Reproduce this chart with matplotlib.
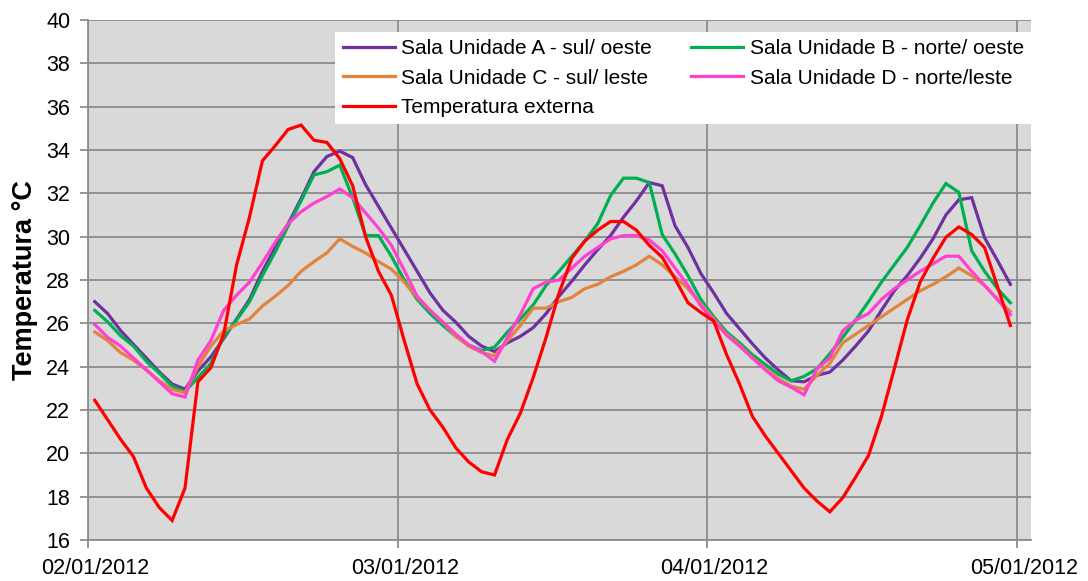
import numpy as np
import pandas as pd
import matplotlib
matplotlib.use('Agg')
import matplotlib.pyplot as plt
import matplotlib.dates as mdates
import matplotlib.transforms as mtransforms

plt.rcParams['font.family'] = ['Liberation Sans', 'DejaVu Sans']

# leituras horarias 02/01/2012 - 04/01/2012 (72 pontos)
horas = pd.date_range('2012-01-02 00:30', periods=72, freq='h')

sala_a = [27.0, 26.45, 25.67, 25.03, 24.4, 23.76, 23.2, 22.96, 23.8, 24.45, 25.3, 26.2,
          27.1, 28.4, 29.5, 30.6, 31.75, 33.0, 33.7, 33.95, 33.65, 32.4, 31.4, 30.4,
          29.4, 28.4, 27.4, 26.6, 26.05, 25.4, 24.95, 24.7, 25.1, 25.4, 25.8, 26.45,
          27.25, 27.95, 28.7, 29.4, 30.05, 30.9, 31.65, 32.5, 32.35, 30.5, 29.5, 28.3,
          27.4, 26.45, 25.75, 25.05, 24.4, 23.85, 23.35, 23.3, 23.6, 23.75, 24.3, 24.95,
          25.65, 26.6, 27.5, 28.2, 29.0, 29.9, 31.0, 31.7, 31.8, 29.95, 28.9, 27.8]

sala_b = [26.6, 26.07, 25.43, 24.95, 24.25, 23.7, 23.1, 22.85, 23.5, 24.15, 25.4, 26.15,
          27.0, 28.2, 29.3, 30.5, 31.65, 32.85, 33.0, 33.3, 31.8, 30.05, 30.05, 29.1,
          28.0, 27.1, 26.45, 25.9, 25.4, 25.0, 24.75, 24.9, 25.6, 26.2, 26.85, 27.75,
          28.4, 29.1, 29.8, 30.6, 31.9, 32.7, 32.7, 32.5, 30.1, 29.2, 28.2, 27.1,
          26.3, 25.6, 25.1, 24.55, 24.1, 23.65, 23.35, 23.55, 23.9, 24.6, 25.35, 26.15,
          27.0, 27.9, 28.7, 29.5, 30.5, 31.55, 32.45, 32.05, 29.35, 28.4, 27.6, 26.95]

sala_c = [25.6, 25.2, 24.65, 24.3, 23.85, 23.35, 22.95, 22.8, 24.0, 24.95, 25.65, 25.95,
          26.2, 26.8, 27.25, 27.75, 28.4, 28.85, 29.25, 29.9, 29.55, 29.25, 28.85, 28.5,
          27.9, 27.2, 26.6, 26.05, 25.4, 24.95, 24.65, 24.5, 25.2, 25.9, 26.7, 26.7,
          27.0, 27.2, 27.6, 27.8, 28.15, 28.4, 28.7, 29.1, 28.7, 28.15, 27.6, 26.9,
          26.2, 25.5, 25.0, 24.4, 23.9, 23.45, 23.1, 22.95, 23.6, 24.15, 25.1, 25.5,
          25.9, 26.3, 26.7, 27.1, 27.5, 27.8, 28.15, 28.55, 28.2, 27.75, 27.1, 26.55]

sala_d = [25.95, 25.35, 24.95, 24.4, 23.85, 23.3, 22.75, 22.6, 24.3, 25.2, 26.6, 27.3,
          27.9, 28.8, 29.75, 30.6, 31.15, 31.55, 31.85, 32.2, 31.8, 31.1, 30.4, 29.6,
          28.45, 27.25, 26.6, 26.05, 25.5, 25.0, 24.7, 24.25, 25.35, 26.4, 27.6, 27.9,
          28.0, 28.55, 29.1, 29.5, 29.9, 30.05, 30.05, 29.85, 29.35, 28.55, 27.75, 26.8,
          26.15, 25.45, 24.95, 24.4, 23.85, 23.35, 23.05, 22.7, 23.9, 24.4, 25.65, 26.15,
          26.45, 27.1, 27.6, 28.0, 28.4, 28.75, 29.1, 29.1, 28.4, 27.75, 27.1, 26.4]

externa = [22.45, 21.55, 20.65, 19.85, 18.4, 17.5, 16.9, 18.4, 23.3, 23.95, 25.5, 28.7,
           30.9, 33.5, 34.2, 34.95, 35.15, 34.45, 34.35, 33.6, 32.35, 30.0, 28.4, 27.3,
           25.2, 23.2, 22.0, 21.2, 20.25, 19.6, 19.15, 19.0, 20.65, 21.85, 23.5, 25.35,
           27.4, 29.0, 29.8, 30.3, 30.7, 30.7, 30.3, 29.6, 29.05, 28.05, 26.95, 26.5,
           26.1, 24.55, 23.2, 21.7, 20.8, 20.0, 19.2, 18.4, 17.8, 17.3, 17.95, 18.9,
           19.9, 21.7, 23.9, 26.15, 27.9, 29.0, 29.97, 30.45, 30.1, 29.5, 27.7, 25.9]

series = [
    ('Sala Unidade A - sul/ oeste', sala_a, '#7030A0'),
    ('Sala Unidade C - sul/ leste', sala_c, '#E0843E'),
    ('Temperatura externa', externa, '#FF0000'),
    ('Sala Unidade B - norte/ oeste', sala_b, '#00B050'),
    ('Sala Unidade D - norte/leste', sala_d, '#FF40D0'),
]
ordem_plot = [0, 3, 1, 4, 2]

fig = plt.figure(figsize=(10.88, 5.81), dpi=100)
ax = fig.add_axes([88.3 / 1088, 1 - 540 / 581, (1031 - 88.3) / 1088, 520 / 581])
ax.set_facecolor('#D9D9D9')

linhas = {}
for k in ordem_plot:
    nome, vals, cor = series[k]
    linhas[k], = ax.plot(horas, vals, color=cor, linewidth=2.3, label=nome,
                         solid_joinstyle='miter')

ax.set_ylim(16, 40)
ax.set_yticks(np.arange(16, 41, 2))
ax.set_xlim(pd.Timestamp('2012-01-02 00:00'), pd.Timestamp('2012-01-05 01:06'))
ax.xaxis.set_major_locator(mdates.DayLocator())
ax.xaxis.set_major_formatter(mdates.DateFormatter('%d/%m/%Y'))

ax.grid(True, color='#8C8C8C', linewidth=1.3)
ax.set_axisbelow(True)
for s in ['top', 'right']:
    ax.spines[s].set_visible(False)
for s in ['left', 'bottom']:
    ax.spines[s].set_color('#8C8C8C')
    ax.spines[s].set_linewidth(1.3)
ax.tick_params(axis='both', colors='#8C8C8C', width=1.3, length=6,
               labelsize=15.5, labelcolor='black')
ax.tick_params(axis='x', pad=7)
ax.tick_params(axis='y', pad=7)

# rotulos das datas levemente deslocados para a direita (como no Excel)
desloc = mtransforms.ScaledTranslation(7 / 100, 0, fig.dpi_scale_trans)
for lbl in ax.get_xticklabels():
    lbl.set_transform(lbl.get_transform() + desloc)

ax.set_ylabel('Temperatura °C', fontsize=19.5, fontweight='bold', labelpad=6)

leg = ax.legend([linhas[k] for k in range(5)], [series[k][0] for k in range(5)],
                ncol=2, loc='upper right', bbox_to_anchor=(1.0, 0.977),
                fontsize=15, frameon=True, fancybox=False, framealpha=1,
                handlelength=2.5, handletextpad=0.3, columnspacing=1.9,
                labelspacing=0.5, borderpad=0.35, borderaxespad=0)
leg.get_frame().set_edgecolor('none')
leg.get_frame().set_facecolor('white')

fig.savefig('out.png', dpi=100)
